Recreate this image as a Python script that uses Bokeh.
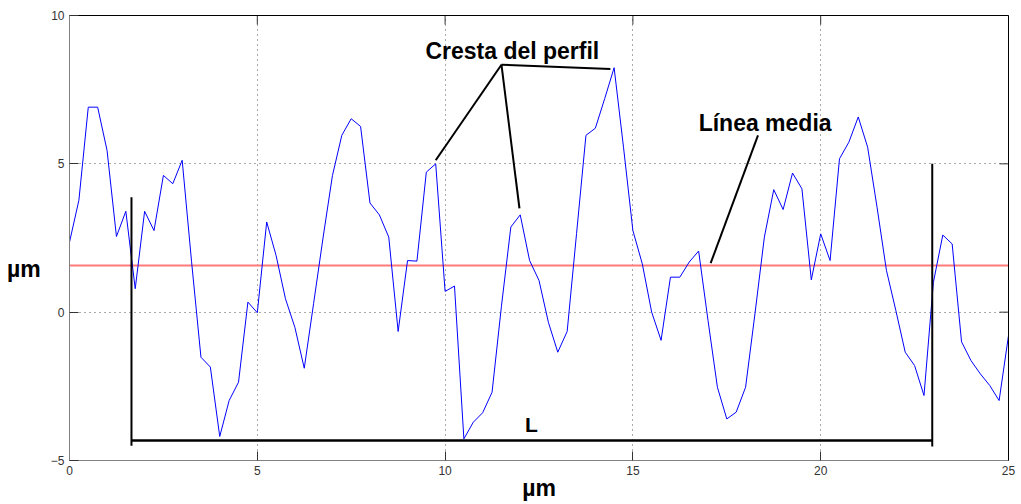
from bokeh.plotting import figure
from bokeh.models import LinearAxis, Label, FixedTicker, Range1d
from bokeh.embed import file_html
from bokeh.resources import INLINE

# Profile sampled every 0.25 µm
x_um = [0.0, 0.25, 0.5, 0.75, 1.0, 1.25, 1.5, 1.75, 2.0, 2.25, 2.5, 2.75, 3.0, 3.25, 3.5, 3.75,
        4.0, 4.25, 4.5, 4.75, 5.0, 5.25, 5.5, 5.75, 6.0, 6.25, 6.5, 6.75, 7.0, 7.25, 7.5, 7.75,
        8.0, 8.25, 8.5, 8.75, 9.0, 9.25, 9.5, 9.75, 10.0, 10.25, 10.5, 10.75, 11.0, 11.25, 11.5,
        11.75, 12.0, 12.25, 12.5, 12.75, 13.0, 13.25, 13.5, 13.75, 14.0, 14.25, 14.5, 14.75, 15.0,
        15.25, 15.5, 15.75, 16.0, 16.25, 16.5, 16.75, 17.0, 17.25, 17.5, 17.75, 18.0, 18.25, 18.5,
        18.75, 19.0, 19.25, 19.5, 19.75, 20.0, 20.25, 20.5, 20.75, 21.0, 21.25, 21.5, 21.75, 22.0,
        22.25, 22.5, 22.75, 23.0, 23.25, 23.5, 23.75, 24.0, 24.25, 24.5, 24.75, 25.0]
profile_um = [2.36, 3.77, 6.91, 6.91, 5.45, 2.55, 3.40, 0.79, 3.40, 2.75, 4.61, 4.33, 5.12, 1.7,
              -1.52, -1.85, -4.19, -2.98, -2.36, 0.34, -0.02, 3.04, 1.91, 0.45, -0.51, -1.89, 0.3,
              2.5, 4.6, 5.96, 6.52, 6.26, 3.68, 3.28, 2.53, -0.65, 1.74, 1.72, 4.72, 5.0, 0.70, 0.88,
              -4.27, -3.71, -3.39, -2.70, 0.2, 2.87, 3.28, 1.74, 1.07, -0.34, -1.35, -0.65, 2.65,
              5.96, 6.2, 7.2, 8.24, 5.56, 2.75, 1.63, 0.0, -0.95, 1.18, 1.18, 1.69, 2.06, -0.28,
              -2.53, -3.6, -3.37, -2.53, -0.05, 2.53, 4.13, 3.46, 4.69, 4.16, 1.09, 2.64, 1.74, 5.17,
              5.73, 6.58, 5.56, 3.54, 1.41, 0.06, -1.35, -1.8, -2.81, 1.0, 2.6, 2.3, -1.0, -1.63,
              -2.08, -2.47, -2.98, -0.79]
mean_line_um = 1.57

x_ticks = [0, 5, 10, 15, 20, 25]
y_ticks = [-5, 0, 5, 10]

# Evaluation length bracket (L)
L_start, L_end = 1.65, 22.97
L_base = -4.33
L_left_top, L_left_bottom = 3.87, -4.5
L_right_top, L_right_bottom = 5.0, -4.53

# Leaders for "Cresta del perfil"
crest_hub = (11.5, 8.34)
crest_tips_x = [9.75, 11.98, 14.4]
crest_tips_y = [5.12, 3.5, 8.2]
# Leader for "Línea media"
mean_leader_x = [18.33, 17.07]
mean_leader_y = [5.96, 1.65]

FONT = "Liberation Sans"
X0, X1, Y0, Y1 = 0, 25, -5, 10

p = figure(width=1021, height=504, output_backend="svg", toolbar_location=None,
           x_range=Range1d(X0, X1), y_range=Range1d(Y0, Y1),
           min_border_left=69, min_border_right=13, min_border_top=15, min_border_bottom=44,
           x_axis_location=None, y_axis_location=None)
p.outline_line_color = None
p.background_fill_color = "white"
p.border_fill_color = "white"

def style_axis(ax, ticks, line_color):
    ax.ticker = FixedTicker(ticks=ticks)
    ax.axis_line_color = line_color
    ax.axis_line_width = 1
    ax.major_tick_in = 9
    ax.major_tick_out = 0
    ax.major_tick_line_color = "#333333"
    ax.minor_tick_line_color = None
    ax.major_label_text_font = FONT
    ax.major_label_text_font_size = "12px"
    ax.major_label_text_color = "#333333"
    ax.axis_label_text_font = FONT
    ax.axis_label_text_font_size = "23px"
    ax.axis_label_text_font_style = "bold"
    ax.axis_label_text_color = "black"

left = LinearAxis(axis_label="\n\nµm")
style_axis(left, y_ticks, "#808080")
left.major_label_standoff = 5
left.axis_label_standoff = 7
left.axis_label_orientation = "horizontal"
bottom = LinearAxis(axis_label="µm")
style_axis(bottom, x_ticks, "#808080")
bottom.major_label_standoff = 5
bottom.axis_label_standoff = -3
p.add_layout(left, "left")
p.add_layout(bottom, "below")

# top / right frame lines (black, no ticks of their own)
right = LinearAxis(ticker=FixedTicker(ticks=[]), axis_line_color="black",
                   major_tick_line_color=None, minor_tick_line_color=None)
top = LinearAxis(ticker=FixedTicker(ticks=[]), axis_line_color="black",
                 major_tick_line_color=None, minor_tick_line_color=None)
p.add_layout(right, "right")
p.add_layout(top, "above")

# inward ticks on top and right edges (9 px long)
tick_dy = 9 * (Y1 - Y0) / 445.0
tick_dx = 9 * (X1 - X0) / 939.0
p.segment(x0=x_ticks, y0=[Y1] * len(x_ticks), x1=x_ticks, y1=[Y1 - tick_dy] * len(x_ticks),
          line_color="#333333", line_width=1)
p.segment(x0=[X1] * len(y_ticks), y0=y_ticks, x1=[X1 - tick_dx] * len(y_ticks), y1=y_ticks,
          line_color="#333333", line_width=1)

p.xgrid.ticker = FixedTicker(ticks=x_ticks)
p.ygrid.ticker = FixedTicker(ticks=y_ticks)
for g in (p.xgrid, p.ygrid):
    g.grid_line_color = "#555555"
    g.grid_line_dash = "1 4"
    g.grid_line_width = 1

# mean line
p.line([X0, X1], [mean_line_um, mean_line_um], line_color="#ff7b7b", line_width=2)
# profile
p.line(x_um, profile_um, line_color="#0000ff", line_width=1)

# L bracket
p.line([L_start, L_start], [L_left_bottom, L_left_top], line_color="black", line_width=2)
p.line([L_start, L_end], [L_base, L_base], line_color="black", line_width=2.5)
p.line([L_end, L_end], [L_right_bottom, L_right_top], line_color="black", line_width=2)

# leaders
for tx, ty in zip(crest_tips_x, crest_tips_y):
    p.line([crest_hub[0], tx], [crest_hub[1], ty], line_color="black", line_width=2)
p.line(mean_leader_x, mean_leader_y, line_color="black", line_width=2)

def add_text(x, y, text, size):
    p.add_layout(Label(x=x, y=y, text=text, text_font=FONT, text_font_size=size,
                       text_font_style="bold", text_color="black",
                       text_align="center", text_baseline="middle"))

add_text(11.79, 8.8, "Cresta del perfil", "23px")
add_text(18.52, 6.36, "Línea media", "23px")
add_text(12.3, -3.8, "L", "21px")

open("out.html", "w").write(file_html(p, INLINE))
